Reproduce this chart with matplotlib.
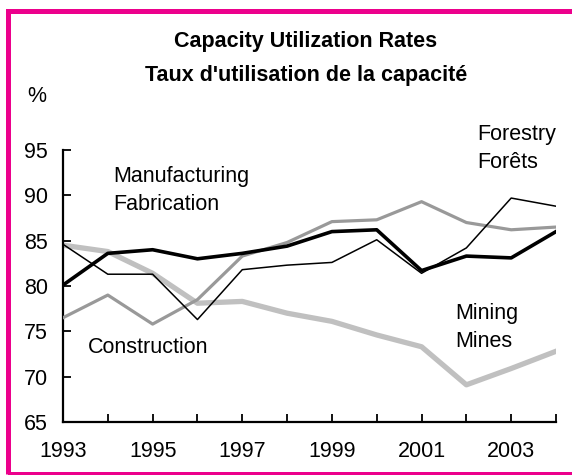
import matplotlib
matplotlib.use('Agg')
import matplotlib.pyplot as plt
from matplotlib.patches import Rectangle

plt.rcParams['font.family'] = ['Liberation Sans', 'DejaVu Sans']

# Data
years = [1993, 1994, 1995, 1996, 1997, 1998, 1999, 2000, 2001, 2002, 2003, 2004]
manufacturing = [80.1, 83.6, 84.0, 83.0, 83.6, 84.4, 86.0, 86.2, 81.7, 83.3, 83.1, 86.0]
forestry = [84.6, 81.3, 81.3, 76.3, 81.8, 82.3, 82.6, 85.1, 81.4, 84.2, 89.7, 88.8]
construction = [76.5, 79.0, 75.8, 78.5, 83.3, 84.8, 87.1, 87.3, 89.3, 87.0, 86.2, 86.5]
mining = [84.5, 83.8, 81.4, 78.1, 78.3, 77.0, 76.1, 74.6, 73.3, 69.1, 70.9, 72.8]

FS = 15.5
W, H = 572, 475
fig = plt.figure(figsize=(W / 100, H / 100), dpi=100)
ax = fig.add_axes([63 / W, 1 - 422 / H, (556 - 63) / W, (422 - 150) / H])

ax.plot(years, mining, color='#C0C0C0', lw=3.8, zorder=2)
ax.plot(years, construction, color='#999999', lw=2.3, zorder=3)
ax.plot(years, forestry, color='black', lw=1.1, zorder=4)
ax.plot(years, manufacturing, color='black', lw=2.6, zorder=5)

ax.set_xlim(1993, 2004)
ax.set_ylim(65, 95)
ax.set_yticks(range(65, 100, 5))
ax.set_xticks(range(1993, 2005))
ax.set_xticklabels([str(y) if y % 2 == 1 else '' for y in range(1993, 2005)])
ax.tick_params(axis='both', direction='in', length=6, width=1.3, labelsize=FS)
ax.tick_params(axis='x', pad=14)
ax.tick_params(axis='y', pad=11)
for s in ['top', 'right']:
    ax.spines[s].set_visible(False)
for s in ['left', 'bottom']:
    ax.spines[s].set_linewidth(1.6)

# Series labels
ax.text(1994.12, 88.4, 'Manufacturing\nFabrication', fontsize=FS, va='baseline', linespacing=1.45)
ax.text(2002.24, 93.0, 'Forestry\nForêts', fontsize=FS, va='baseline', linespacing=1.45, clip_on=False)
ax.text(2001.75, 73.3, 'Mining\nMines', fontsize=FS, va='baseline', linespacing=1.45)
ax.text(1993.56, 72.6, 'Construction', fontsize=FS, va='baseline')

# Titles
fig.text(306 / W, 1 - 47 / H, 'Capacity Utilization Rates', fontsize=FS, fontweight='bold',
         ha='center', va='baseline')
fig.text(306 / W, 1 - 81 / H, "Taux d'utilisation de la capacité", fontsize=FS, fontweight='bold',
         ha='center', va='baseline')
fig.text(27 / W, 1 - 102 / H, '%', fontsize=FS, va='baseline')

# Magenta frame
fig.patches.append(Rectangle((7.5 / W, 1 - 473.5 / H), 600 / W, (473.5 - 11) / H,
                             transform=fig.transFigure, fill=False,
                             edgecolor='#EC008C', lw=3.6, zorder=10))

fig.savefig('out.png', dpi=100)
